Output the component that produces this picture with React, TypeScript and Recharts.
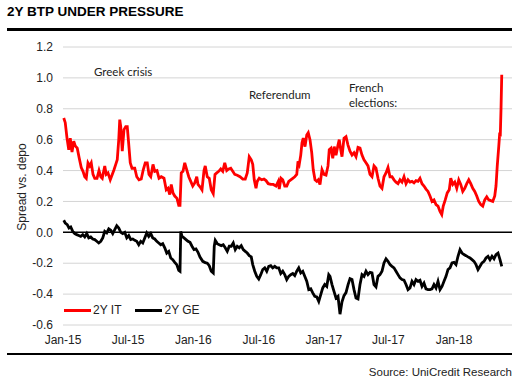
import { LineChart, Line, XAxis, YAxis, CartesianGrid, ReferenceLine } from 'recharts';

// x = weeks since 1 Jan 2015, y = spread vs. depo
const itSeries: [number, number][] = [
  [0.3, 0.74], [0.9, 0.71], [1.6, 0.61], [2.3, 0.535], [2.9, 0.61], [3.6, 0.52], [4.3, 0.59], [4.9, 0.56],
  [5.7, 0.545], [6.5, 0.48], [7.3, 0.42], [8.0, 0.395], [8.7, 0.36], [9.3, 0.35], [10.0, 0.45], [10.7, 0.43],
  [11.3, 0.45], [12.0, 0.375], [12.7, 0.35], [13.6, 0.35], [14.4, 0.4], [15.1, 0.36], [15.7, 0.35], [16.7, 0.43],
  [17.3, 0.375], [18.0, 0.385], [18.9, 0.34], [19.7, 0.375], [20.4, 0.405], [21.1, 0.44], [21.7, 0.47], [22.3, 0.6],
  [22.7, 0.73], [23.1, 0.685], [23.7, 0.525], [24.4, 0.665], [25.1, 0.685], [25.7, 0.685], [26.3, 0.57], [26.9, 0.45],
  [27.6, 0.415], [28.7, 0.415], [29.5, 0.36], [30.4, 0.34], [31.3, 0.345], [32.1, 0.405], [32.9, 0.45], [33.7, 0.45],
  [34.4, 0.375], [35.1, 0.36], [36.0, 0.44], [36.7, 0.395], [37.6, 0.4], [38.4, 0.35], [39.3, 0.36], [40.4, 0.35],
  [41.3, 0.275], [42.0, 0.285], [42.7, 0.245], [43.3, 0.31], [44.0, 0.255], [44.7, 0.235], [45.6, 0.22], [46.3, 0.175],
  [46.8, 0.175], [47.3, 0.385], [48.0, 0.395], [48.7, 0.45], [49.3, 0.415], [50.3, 0.36], [51.1, 0.33], [51.9, 0.3],
  [52.7, 0.32], [53.5, 0.36], [54.0, 0.31], [54.8, 0.295], [55.6, 0.275], [56.4, 0.4], [56.9, 0.43], [57.7, 0.36],
  [58.5, 0.35], [59.3, 0.275], [60.1, 0.25], [60.8, 0.375], [61.5, 0.385], [62.3, 0.395], [63.1, 0.41], [63.9, 0.395],
  [64.7, 0.45], [65.5, 0.4], [66.3, 0.41], [67.1, 0.415], [67.9, 0.395], [68.7, 0.375], [69.7, 0.37], [70.8, 0.36],
  [71.9, 0.345], [72.9, 0.345], [73.7, 0.385], [74.5, 0.49], [75.3, 0.47], [75.9, 0.44], [76.5, 0.34], [77.2, 0.285],
  [77.7, 0.33], [78.5, 0.35], [79.5, 0.34], [80.4, 0.345], [81.2, 0.335], [82.1, 0.315], [83.1, 0.31], [84.1, 0.31],
  [85.2, 0.3], [86.1, 0.33], [86.5, 0.28], [87.2, 0.35], [87.9, 0.34], [88.7, 0.3], [89.5, 0.3], [90.3, 0.33],
  [91.1, 0.34], [91.9, 0.35], [92.7, 0.36], [93.5, 0.375], [94.0, 0.46], [94.5, 0.44], [95.1, 0.5], [95.6, 0.58],
  [96.1, 0.61], [96.8, 0.555], [97.5, 0.63], [98.1, 0.645], [98.8, 0.6], [99.5, 0.515], [100.1, 0.405], [100.8, 0.34],
  [101.5, 0.33], [102.1, 0.34], [102.8, 0.31], [103.6, 0.405], [104.4, 0.375], [105.2, 0.37], [106.0, 0.43], [106.5, 0.535],
  [107.2, 0.545], [107.9, 0.48], [108.5, 0.555], [109.2, 0.5], [110.0, 0.565], [110.5, 0.6], [111.1, 0.535], [111.6, 0.49],
  [112.4, 0.61], [113.2, 0.62], [114.0, 0.565], [114.8, 0.525], [115.6, 0.5], [116.4, 0.515], [117.2, 0.49], [118.0, 0.55],
  [118.8, 0.545], [119.6, 0.5], [120.4, 0.47], [121.2, 0.45], [122.0, 0.43], [122.8, 0.375], [123.6, 0.36], [124.4, 0.43],
  [125.2, 0.415], [126.0, 0.35], [126.8, 0.3], [127.6, 0.285], [128.4, 0.36], [129.2, 0.385], [130.0, 0.42], [130.8, 0.36],
  [131.6, 0.36], [132.4, 0.34], [133.2, 0.325], [134.0, 0.315], [134.8, 0.34], [135.6, 0.325], [136.4, 0.36], [137.2, 0.315],
  [138.0, 0.34], [138.8, 0.325], [139.6, 0.33], [140.4, 0.32], [141.2, 0.335], [142.0, 0.33], [142.8, 0.35], [143.6, 0.315],
  [144.4, 0.3], [145.2, 0.28], [146.0, 0.265], [146.8, 0.235], [147.6, 0.2], [148.4, 0.21], [149.2, 0.18], [150.0, 0.17],
  [150.8, 0.135], [151.5, 0.115], [152.1, 0.17], [152.9, 0.21], [153.7, 0.255], [154.5, 0.275], [155.1, 0.35], [155.9, 0.31],
  [156.7, 0.325], [157.5, 0.285], [158.3, 0.34], [159.1, 0.31], [159.9, 0.265], [160.7, 0.285], [161.5, 0.315], [162.3, 0.34],
  [163.1, 0.315], [163.9, 0.285], [164.7, 0.265], [165.5, 0.235], [166.3, 0.2], [167.1, 0.18], [167.9, 0.17], [168.7, 0.21],
  [169.5, 0.23], [170.3, 0.21], [171.1, 0.205], [171.9, 0.2], [172.7, 0.235], [173.2, 0.3], [173.7, 0.43], [174.3, 0.555],
  [174.7, 0.645], [174.9, 0.62], [175.2, 0.795], [175.5, 1.02],
];

const geSeries: [number, number][] = [
  [0.3, 0.078], [0.9, 0.06], [1.7, 0.05], [2.4, 0.028], [3.1, 0.035], [3.9, 0.006], [4.7, -0.008], [5.5, -0.015],
  [6.3, -0.02], [7.1, -0.026], [7.9, -0.015], [8.7, -0.03], [9.5, -0.008], [10.3, -0.036], [11.1, -0.03], [11.9, -0.043],
  [12.7, -0.047], [13.5, -0.058], [14.3, -0.069], [15.1, -0.058], [15.9, -0.036], [16.7, 0.006], [17.5, -0.004], [18.3, 0.022],
  [19.1, 0.013], [19.9, -0.008], [20.7, 0.017], [21.5, 0.043], [22.3, 0.028], [23.1, 0.0], [23.9, -0.008], [24.7, 0.0],
  [25.5, -0.036], [26.3, -0.021], [27.1, -0.047], [27.9, -0.043], [28.7, -0.052], [29.5, -0.058], [30.3, -0.08], [31.1, -0.058],
  [31.9, -0.069], [32.7, -0.036], [33.5, -0.004], [34.3, -0.026], [35.1, -0.008], [35.9, -0.036], [36.7, -0.043], [37.5, -0.058],
  [38.3, -0.069], [39.1, -0.08], [39.9, -0.073], [40.7, -0.1], [41.5, -0.134], [42.3, -0.123], [43.1, -0.166], [43.9, -0.177],
  [44.7, -0.194], [45.5, -0.209], [46.3, -0.246], [46.8, -0.252], [47.1, 0.006], [47.6, -0.026], [48.4, -0.036], [49.2, -0.047],
  [50.0, -0.058], [50.8, -0.065], [51.6, -0.09], [52.4, -0.112], [53.2, -0.107], [54.0, -0.129], [54.8, -0.16], [55.9, -0.188],
  [56.9, -0.196], [57.7, -0.2], [58.5, -0.216], [59.3, -0.252], [60.1, -0.263], [60.5, -0.09], [60.9, -0.052], [61.7, -0.073],
  [62.5, -0.08], [63.3, -0.086], [64.1, -0.08], [64.9, -0.1], [65.7, -0.123], [66.5, -0.09], [67.3, -0.09], [68.1, -0.069],
  [68.9, -0.112], [69.7, -0.09], [70.5, -0.1], [71.3, -0.086], [72.1, -0.112], [72.9, -0.123], [73.7, -0.134], [74.5, -0.151],
  [75.3, -0.159], [75.9, -0.209], [76.7, -0.252], [77.5, -0.285], [78.3, -0.302], [79.1, -0.274], [79.9, -0.241], [80.7, -0.23],
  [81.5, -0.252], [82.3, -0.22], [83.1, -0.216], [83.9, -0.23], [84.7, -0.22], [85.5, -0.23], [86.3, -0.23], [87.1, -0.267],
  [87.9, -0.252], [88.7, -0.274], [89.5, -0.306], [90.3, -0.285], [91.1, -0.274], [91.9, -0.267], [92.7, -0.28], [93.5, -0.252],
  [94.3, -0.23], [95.1, -0.263], [95.9, -0.252], [96.7, -0.285], [97.5, -0.317], [98.3, -0.371], [99.1, -0.366], [99.9, -0.392],
  [100.7, -0.414], [101.5, -0.418], [102.3, -0.447], [103.1, -0.403], [103.9, -0.36], [104.7, -0.338], [105.5, -0.35], [106.3, -0.274],
  [106.8, -0.285], [107.6, -0.338], [108.4, -0.382], [109.2, -0.425], [110.0, -0.414], [110.8, -0.53], [111.6, -0.45], [112.4, -0.41],
  [113.2, -0.39], [114.0, -0.34], [114.8, -0.3], [115.6, -0.306], [116.4, -0.371], [117.2, -0.425], [118.0, -0.431], [118.8, -0.338],
  [119.6, -0.274], [120.4, -0.285], [121.2, -0.252], [122.0, -0.274], [122.8, -0.259], [123.6, -0.263], [124.4, -0.338], [125.2, -0.353],
  [126.0, -0.285], [126.8, -0.274], [127.6, -0.252], [128.4, -0.198], [129.2, -0.172], [130.0, -0.188], [130.8, -0.209], [131.6, -0.22],
  [132.4, -0.23], [133.2, -0.252], [134.0, -0.274], [134.8, -0.295], [135.6, -0.306], [136.4, -0.31], [137.2, -0.338], [138.0, -0.371],
  [138.8, -0.36], [139.6, -0.317], [140.4, -0.338], [141.2, -0.306], [142.0, -0.317], [142.8, -0.31], [143.6, -0.35], [144.4, -0.328],
  [145.2, -0.366], [146.0, -0.371], [146.8, -0.371], [147.6, -0.366], [148.4, -0.338], [149.2, -0.36], [150.0, -0.317], [150.8, -0.371],
  [151.6, -0.35], [152.4, -0.317], [153.2, -0.285], [154.0, -0.241], [154.8, -0.23], [155.6, -0.198], [156.4, -0.194], [157.2, -0.209],
  [158.0, -0.155], [158.8, -0.112], [159.6, -0.134], [160.4, -0.144], [161.2, -0.151], [162.0, -0.159], [162.8, -0.166], [163.6, -0.177],
  [164.4, -0.188], [165.2, -0.209], [166.0, -0.241], [166.8, -0.22], [167.6, -0.198], [168.4, -0.188], [169.2, -0.166], [170.0, -0.155],
  [170.8, -0.177], [171.6, -0.155], [172.4, -0.172], [173.2, -0.144], [174.0, -0.134], [174.8, -0.177], [175.5, -0.22],
];

const xTickWeeks = [0, 26, 52.1, 78.3, 104.3, 130.1, 156.4];
const xTickLabels = ['Jan-15', 'Jul-15', 'Jan-16', 'Jul-16', 'Jan-17', 'Jul-17', 'Jan-18'];
const yTicks = [-0.6, -0.4, -0.2, 0, 0.2, 0.4, 0.6, 0.8, 1.0, 1.2];

const seriesNames = ['2Y IT', '2Y GE'];
const seriesColors = ['#ff0000', '#000000'];

const itData = itSeries.map(([t, v]) => ({ t, v }));
const geData = geSeries.map(([t, v]) => ({ t, v }));

const labelFont = 'Lato, "Open Sans", sans-serif';
const axisFont = '"Liberation Sans", Arial, sans-serif';

export default function App() {
  return (
    <div style={{ position: 'absolute', left: 0, top: 0, width: 523, height: 387, background: '#fff', fontFamily: axisFont }}>
      <div style={{ position: 'absolute', left: 7, top: 4, fontSize: 13.5, fontWeight: 700, lineHeight: '16px', color: '#000' }}>
        2Y BTP UNDER PRESSURE
      </div>
      <div style={{ position: 'absolute', left: 7, top: 28, width: 505, height: 3, background: '#000' }} />

      <LineChart width={523} height={387} data={itData} margin={{ top: 47, right: 11, bottom: 42, left: 0 }}>
        <CartesianGrid vertical={false} stroke="#d4d4d4" strokeWidth={1} />
        <XAxis
          dataKey="t"
          type="number"
          domain={[0, 179.6]}
          ticks={xTickWeeks}
          tickFormatter={(v: number) => xTickLabels[xTickWeeks.indexOf(v)] ?? ''}
          axisLine={false}
          tickLine={false}
          tickSize={6}
          tickMargin={4}
          height={20}
          interval={0}
          tick={{ fontSize: 12, fill: '#222', fontFamily: axisFont }}
        />
        <YAxis
          type="number"
          domain={[-0.6, 1.2]}
          ticks={yTicks}
          tickFormatter={(v: number) => v.toFixed(1)}
          axisLine={false}
          tickLine={false}
          tickSize={6}
          tickMargin={4}
          width={63}
          interval={0}
          tick={{ fontSize: 12, fill: '#222', fontFamily: axisFont }}
        />
        <ReferenceLine y={0} stroke="#000" strokeWidth={1.5} />
        <Line data={itData} dataKey="v" name={seriesNames[0]} stroke={seriesColors[0]} strokeWidth={2.8} dot={false} isAnimationActive={false} />
        <Line data={geData} dataKey="v" name={seriesNames[1]} stroke={seriesColors[1]} strokeWidth={2.8} dot={false} isAnimationActive={false} />
      </LineChart>

      <div
        style={{
          position: 'absolute', left: 22, top: 187, transform: 'translate(-50%, -50%) rotate(-90deg)',
          fontSize: 12, whiteSpace: 'nowrap', color: '#222',
        }}
      >
        Spread vs. depo
      </div>

      <div style={{ position: 'absolute', left: 94, top: 64, fontFamily: labelFont, fontSize: 11.5, lineHeight: '15px', color: '#222' }}>Greek crisis</div>
      <div style={{ position: 'absolute', left: 249, top: 87, fontFamily: labelFont, fontSize: 11.5, lineHeight: '15px', color: '#222' }}>Referendum</div>
      <div style={{ position: 'absolute', left: 349, top: 80, fontFamily: labelFont, fontSize: 11.5, lineHeight: '15px', color: '#222' }}>
        French<br />elections:
      </div>

      <div style={{ position: 'absolute', left: 64, top: 302, display: 'flex', alignItems: 'center', fontSize: 12, color: '#222', lineHeight: '16px' }}>
        {seriesNames.map((n, i) => (
          <div key={n} style={{ display: 'flex', alignItems: 'center', marginRight: 14 }}>
            <div style={{ width: 27, height: 3, background: seriesColors[i], marginRight: 2 }} />
            <span>{n}</span>
          </div>
        ))}
      </div>

      <div style={{ position: 'absolute', left: 7, top: 353, width: 505, height: 2, background: '#000' }} />
      <div style={{ position: 'absolute', right: 11, top: 365, fontSize: 11.5, lineHeight: '15px', color: '#222' }}>
        Source: UniCredit Research
      </div>
    </div>
  );
}
